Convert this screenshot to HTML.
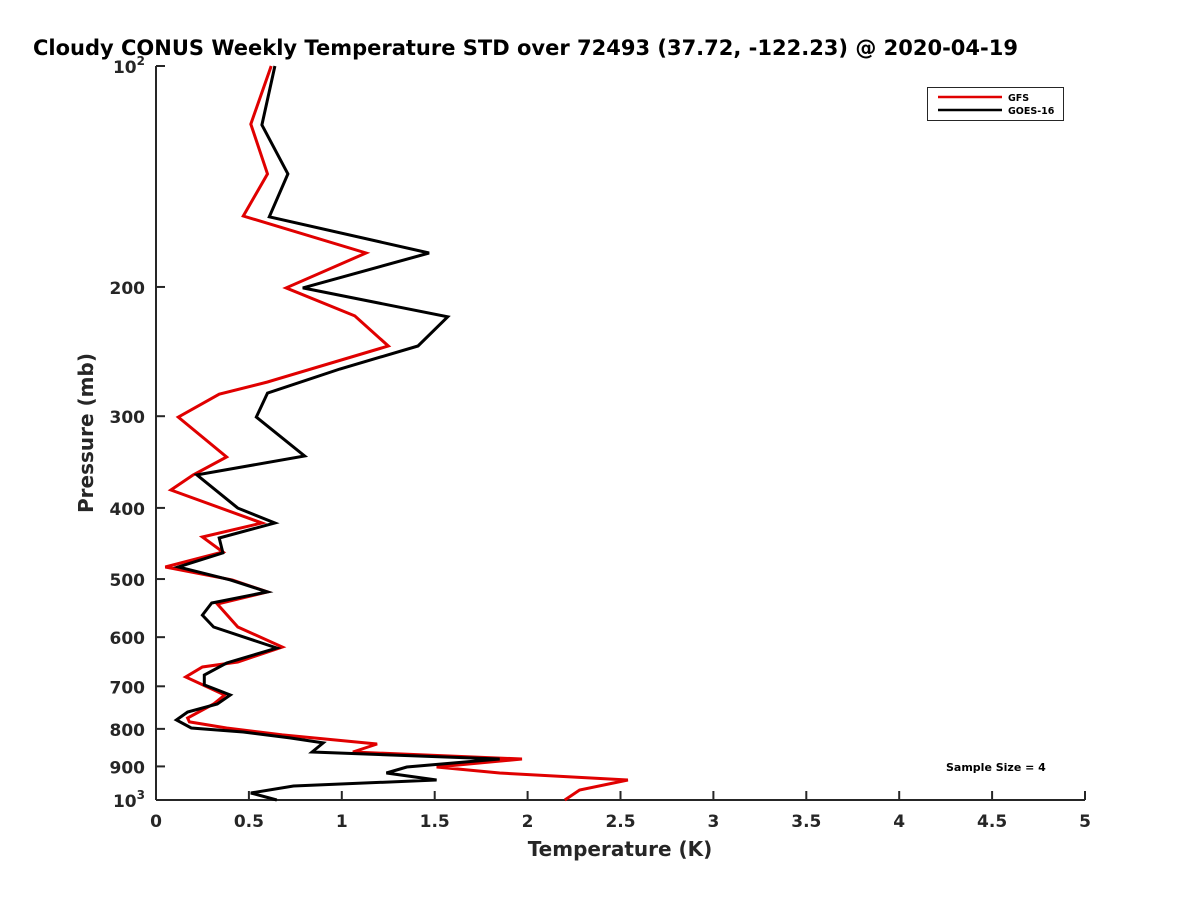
<!DOCTYPE html>
<html><head><meta charset="utf-8"><style>
body{margin:0;background:#fff}
svg{display:block;font-family:"DejaVu Sans","Liberation Sans",sans-serif}
</style></head><body>
<svg id="chart" width="1200" height="900" viewBox="0 0 1200 900" xmlns="http://www.w3.org/2000/svg">
<rect width="1200" height="900" fill="#fff"/>
<text x="33" y="55" font-size="21" font-weight="bold" fill="#000">Cloudy CONUS Weekly Temperature STD over 72493 (37.72, -122.23) @ 2020-04-19</text>
<g id="axes"></g>
<g id="series"></g>
<text x="620" y="856" font-size="20" font-weight="bold" fill="#262626" text-anchor="middle">Temperature (K)</text>
<text transform="translate(93,433) rotate(-90)" font-size="20" font-weight="bold" fill="#262626" text-anchor="middle">Pressure (mb)</text>
<g>
<rect x="927.5" y="87.5" width="136" height="33" fill="#fff" stroke="#262626" stroke-width="1"/>
<line x1="938" y1="97" x2="1002" y2="97" stroke="#e00000" stroke-width="2.5"/>
<text x="1008" y="101" font-size="9.5" font-weight="bold" fill="#000">GFS</text>
<line x1="938" y1="110" x2="1002" y2="110" stroke="#000" stroke-width="2.5"/>
<text x="1008" y="114" font-size="9.5" font-weight="bold" fill="#000">GOES-16</text>
</g>
<text x="946" y="771" font-size="11" font-weight="bold" fill="#000">Sample Size = 4</text>
</svg>
<script>
const xTicks=[0,0.5,1,1.5,2,2.5,3,3.5,4,4.5,5];
const xTickLabels=["0","0.5","1","1.5","2","2.5","3","3.5","4","4.5","5"];
const yTicks=[100,200,300,400,500,600,700,800,900,1000];
const yTickLabels=["10²","200","300","400","500","600","700","800","900","10³"];
const gfsPressure=[100,120,140.3,160.1,179.8,200.6,219,240.7,269.5,280,300.8,341,360.7,378.2,419.4,438.2,459.3,481.4,501.4,520.6,540.8,581.2,618.9,648.6,658.9,679.8,719.3,739.9,773.1,782.8,797.7,815.4,838.8,860.1,879.2,901.6,918.7,939.3,969.2,1000];
const gfsTemp=[0.62,0.51,0.60,0.47,1.13,0.70,1.07,1.25,0.60,0.34,0.12,0.38,0.20,0.08,0.57,0.25,0.36,0.05,0.41,0.60,0.33,0.44,0.68,0.44,0.25,0.16,0.37,0.31,0.17,0.18,0.38,0.68,1.19,1.06,1.97,1.51,1.85,2.54,2.28,2.20];
const goesPressure=[100,120.3,140.3,160.5,179.8,200.6,219.6,240.7,258.7,279,300.8,339.9,360.7,400.2,419.4,439.6,460.7,481.4,501.4,520.6,539,559.8,581.2,620.8,650.7,675.6,697,719.3,739.9,758.7,778,797.7,807.9,823.1,836.1,860.1,879.2,901.6,918.7,939.3,957,978.4,1000];
const goesTemp=[0.64,0.57,0.71,0.61,1.47,0.79,1.57,1.41,0.99,0.60,0.54,0.80,0.22,0.44,0.64,0.34,0.36,0.12,0.40,0.60,0.30,0.25,0.31,0.65,0.38,0.26,0.26,0.40,0.33,0.17,0.11,0.19,0.47,0.72,0.90,0.84,1.85,1.35,1.24,1.51,0.74,0.51,0.65];
const X0=156,X1=1085,Y0=66,Y1=800;
const xS=v=>X0+(v-0)/(5-0)*(X1-X0);
const yS=p=>Y0+(Math.log10(p)-2)/(3-2)*(Y1-Y0);
const NS="http://www.w3.org/2000/svg";
const axes=document.getElementById('axes');
function mk(t,a){const e=document.createElementNS(NS,t);for(const k in a)e.setAttribute(k,a[k]);return e;}
const yl=mk('line',{x1:X0,y1:Y0,x2:X0,y2:Y1,stroke:'#262626','stroke-width':2});


axes.appendChild(yl);
const xl=mk('line',{x1:X0,y1:Y1,x2:X1,y2:Y1,stroke:'#262626','stroke-width':2});


axes.appendChild(xl);
xTicks.forEach((v,i)=>{
 const x=xS(v);
 const t=mk('line',{x1:x,y1:Y1,x2:x,y2:Y1-9,stroke:'#262626','stroke-width':2});
 
 
 axes.appendChild(t);
 const l=mk('text',{x:x,y:Y1+27,'font-size':17,'font-weight':'bold',fill:'#262626','text-anchor':'middle'});
 l.textContent=xTickLabels[i];
 
 
 axes.appendChild(l);
});
yTicks.forEach((p,i)=>{
 const y=yS(p);
 const t=mk('line',{x1:X0,y1:y,x2:X0+9,y2:y,stroke:'#262626','stroke-width':2});
 
 
 axes.appendChild(t);
 const l=mk('text',{x:X0-11,y:y+7,'font-size':17,'font-weight':'bold',fill:'#262626','text-anchor':'end'});
 const lab=yTickLabels[i];
 if(lab.length===3&&lab.startsWith('10')&&isNaN(+lab)){
  l.textContent='10';
  const s=mk('tspan',{'font-size':12,dy:-8});s.textContent=lab==='10²'?'2':'3';l.appendChild(s);
 } else l.textContent=lab;
 
 
 axes.appendChild(l);
});
const sg=document.getElementById('series');
function line(ps,ts,color,name){
 const pts=ps.map((p,i)=>xS(ts[i]).toFixed(1)+','+yS(p).toFixed(1)).join(' ');
 const pl=mk('polyline',{points:pts,fill:'none',stroke:color,'stroke-width':3,'stroke-linejoin':'miter'});
 
 
 sg.appendChild(pl);
}
line(gfsPressure,gfsTemp,'#e00000','gfs-line');
line(goesPressure,goesTemp,'#000000','goes16-line');
</script>
</body></html>
